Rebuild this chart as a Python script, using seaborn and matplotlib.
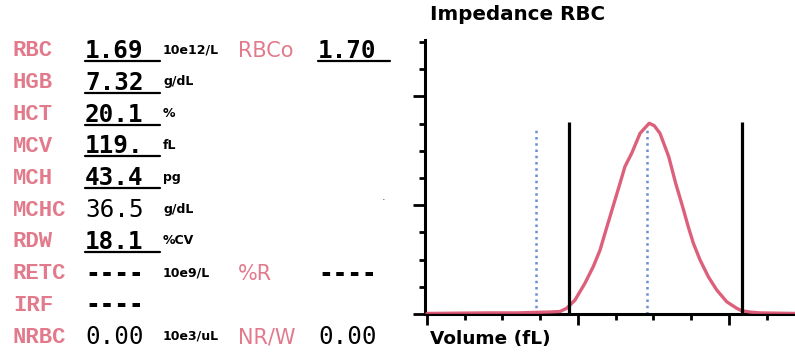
import matplotlib
matplotlib.use("Agg")
import matplotlib.pyplot as plt
from matplotlib.lines import Line2D
from matplotlib.ticker import MultipleLocator
import seaborn as sns
import pandas as pd

# ---------------- data ----------------
labels = ['RBC', 'HGB', 'HCT', 'MCV', 'MCH', 'MCHC', 'RDW', 'RETC', 'IRF', 'NRBC']
values = ['1.69', '7.32', '20.1', '119.', '43.4', '36.5', '18.1', '----', '----', '0.00']
units = ['10e12/L', 'g/dL', '%', 'fL', 'pg', 'g/dL', '%CV', '10e9/L', '', '10e3/uL']
underlined = [True, True, True, True, True, False, True, False, False, False]
extra_labels = {0: 'RBCo', 7: '%R', 9: 'NR/W'}
extra_values = {0: '1.70', 7: '----', 9: '0.00'}
extra_underlined = {0: True, 7: False, 9: False}

volume_fl = [0, 20, 40, 60, 72, 80, 88, 92.5, 98, 104.6, 110.1, 114.6, 117.9, 121.2,
             124.5, 127.8, 131.1, 135.6, 141.1, 144.5, 147.2, 150.5, 154.3, 160.1,
             164.7, 169.3, 173.0, 176.4, 180.8, 186.3, 191.9, 198.5, 205.1, 208.4,
             214, 220.5, 232, 243.7]
counts = [0.02, 0.03, 0.04, 0.04, 0.06, 0.07, 0.09, 0.21, 0.51, 1.13, 1.74, 2.35, 2.97,
          3.58, 4.19, 4.80, 5.42, 5.91, 6.64, 6.85, 7.01, 6.92, 6.64, 5.78, 4.80, 3.94,
          3.21, 2.60, 1.99, 1.37, 0.88, 0.45, 0.21, 0.12, 0.07, 0.04, 0.03, 0.02]
discriminators_fl = [94.2, 208.8]
discriminator_top = 7.05
markers_fl = [72.2, 145.4]
marker_top = 6.84

title = 'Impedance RBC'
xlabel = 'Volume (fL)'

# ---------------- figure ----------------
sns.set_theme(style='ticks')
plt.rcParams['font.family'] = ['DejaVu Sans']
W, H = 795, 357
fig = plt.figure(figsize=(W / 100, H / 100), dpi=100)
fig.patch.set_facecolor('white')


def fx(px):
    return px / W


def fy(py):
    return 1 - py / H


pink = '#e27a8c'
mono = 'DejaVu Sans Mono'

row_y = [51 + 31.8 * i for i in range(len(labels))]

for i, lab in enumerate(labels):
    y = row_y[i]
    fig.text(fx(13), fy(y), lab, color=pink, fontsize=16, family='Liberation Mono',
             fontweight='bold', va='center', ha='left')
    bold = underlined[i] or values[i] == '----'
    fig.text(fx(85), fy(y), values[i], color='black', fontsize=17.5, family=mono,
             fontweight='bold' if bold else 'normal', va='center', ha='left')
    if units[i]:
        fig.text(fx(163), fy(y - 1), units[i], color='black', fontsize=9, family='DejaVu Sans',
                 fontweight='bold', va='center', ha='left')
    if underlined[i]:
        fig.add_artist(Line2D([fx(85), fx(160)], [fy(y + 10), fy(y + 10)],
                              color='black', lw=1.6, transform=fig.transFigure))
    if i in extra_labels:
        fig.text(fx(238), fy(y), extra_labels[i], color=pink, fontsize=15,
                 family='DejaVu Sans', va='center', ha='left')
        ev = extra_values[i]
        fig.text(fx(318), fy(y), ev, color='black', fontsize=17.5, family=mono,
                 fontweight='bold' if (extra_underlined[i] or ev == '----') else 'normal',
                 va='center', ha='left')
        if extra_underlined[i]:
            fig.add_artist(Line2D([fx(318), fx(390)], [fy(y + 10), fy(y + 10)],
                                  color='black', lw=1.6, transform=fig.transFigure))

# stray speck
fig.text(fx(384), fy(197), '.', color='#444444', fontsize=8, ha='center', va='center')

# ---------------- histogram axes ----------------
ax = fig.add_axes([fx(425), fy(314), (W - 425) / W, (314 - 40) / H])
ax.set_facecolor('white')
df = pd.DataFrame({'volume': volume_fl, 'count': counts})
sns.lineplot(data=df, x='volume', y='count', ax=ax, color='#d94f6c', lw=2.4,
             alpha=0.9, zorder=3)
ax.vlines(discriminators_fl, 0, discriminator_top, color='black', lw=2.3, zorder=4)
ax.vlines(markers_fl, 0, marker_top, color='#6b8fd3', lw=1.8, linestyles=(0, (1, 1.5)),
          zorder=2)

ax.set_xlim(-1.3, 243.7)
ax.set_ylim(0, 10.07)
ax.set_xlabel('')
ax.set_ylabel('')
for s in ['top', 'right']:
    ax.spines[s].set_visible(False)
for s in ['left', 'bottom']:
    ax.spines[s].set_linewidth(2.2)
    ax.spines[s].set_color('black')

ax.xaxis.set_major_locator(MultipleLocator(100))
ax.xaxis.set_minor_locator(MultipleLocator(25))
ax.yaxis.set_major_locator(MultipleLocator(4))
ax.yaxis.set_minor_locator(MultipleLocator(1))
ax.tick_params(axis='both', which='major', direction='out', length=8, width=2,
               color='black', labelbottom=False, labelleft=False)
ax.tick_params(axis='both', which='minor', direction='out', length=4, width=2,
               color='black')
ax.tick_params(axis='y', which='major', length=9)

fig.text(fx(430), fy(15), title, fontsize=14.3, fontweight='bold',
         family='DejaVu Sans', va='center', ha='left', color='black')
fig.text(fx(430), fy(339), xlabel, fontsize=13.3, fontweight='bold',
         family='DejaVu Sans', va='center', ha='left', color='black')

fig.savefig('out.png', dpi=100, facecolor='white')
